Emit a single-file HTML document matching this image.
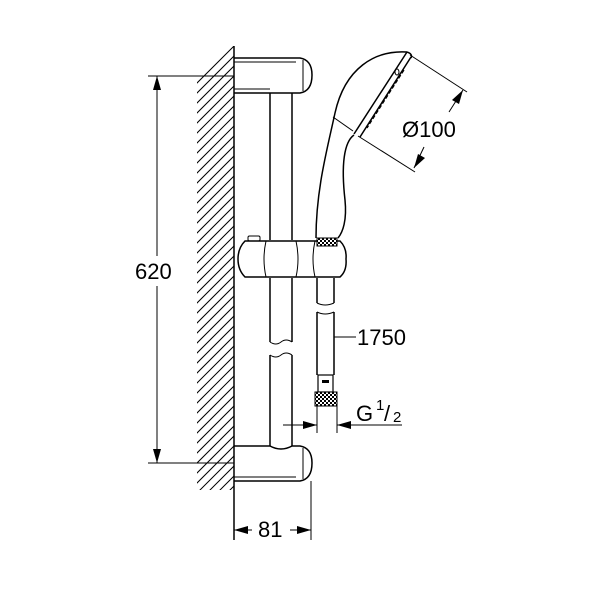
<!DOCTYPE html>
<html><head><style>html,body{margin:0;padding:0;background:#fff}svg{display:block}</style></head>
<body>
<svg width="600" height="600" viewBox="0 0 600 600" xmlns="http://www.w3.org/2000/svg">
<defs>
<clipPath id="w"><rect x="197" y="46" width="37" height="444"/></clipPath>
<pattern id="k" width="4" height="4" patternUnits="userSpaceOnUse"><rect width="4" height="4" fill="#fff"/><rect width="2" height="2" fill="#000"/><rect x="2" y="2" width="2" height="2" fill="#000"/></pattern>
</defs>
<g clip-path="url(#w)" stroke="#000" stroke-width="1">
<path d="M160,560 L280,440 M160,550 L280,430 M160,540 L280,420 M160,530 L280,410 M160,520 L280,400 M160,510 L280,390 M160,500 L280,380 M160,490 L280,370 M160,480 L280,360 M160,470 L280,350 M160,460 L280,340 M160,450 L280,330 M160,440 L280,320 M160,430 L280,310 M160,420 L280,300 M160,410 L280,290 M160,400 L280,280 M160,390 L280,270 M160,380 L280,260 M160,370 L280,250 M160,360 L280,240 M160,350 L280,230 M160,340 L280,220 M160,330 L280,210 M160,320 L280,200 M160,310 L280,190 M160,300 L280,180 M160,290 L280,170 M160,280 L280,160 M160,270 L280,150 M160,260 L280,140 M160,250 L280,130 M160,240 L280,120 M160,230 L280,110 M160,220 L280,100 M160,210 L280,90 M160,200 L280,80 M160,190 L280,70 M160,180 L280,60 M160,170 L280,50 M160,160 L280,40 M160,150 L280,30 M160,140 L280,20 M160,130 L280,10 M160,120 L280,0"/>
</g>
<g fill="none" stroke="#000" stroke-width="1.5">
<line x1="234" y1="46" x2="234" y2="540"/>
<path d="M234,58 L300,58 Q312,60 312,75 Q312,91 300,93 L234,93"/>
<line x1="234" y1="62" x2="296" y2="62" stroke-width="1"/>
<line x1="234" y1="89" x2="270" y2="89" stroke-width="1"/>
<line x1="303" y1="60" x2="303" y2="91" stroke-width="1"/>
<path d="M270,93 L270,240 M292,93 L292,240 M270,278 L270,342 M292,278 L292,342"/>
<path d="M270,342 Q276,346 281,342 Q286,338 292,342" stroke-width="1"/>
<path d="M270,355 Q276,359 281,355 Q286,351 292,355" stroke-width="1"/>
<path d="M270,355 L270,446 M292,355 L292,446"/>
<path d="M234,446 L270,446 Q281,452 292,446 L300,446 Q312,448 312,463 Q312,479 300,481 L234,481"/>
<line x1="234" y1="477" x2="296" y2="477" stroke-width="1"/>
<line x1="303" y1="448" x2="303" y2="479" stroke-width="1"/>
<path d="M245,241 L340,241 Q347,248 346,259 Q347,271 340,277 L245,277 Q238,270 238,259 Q238,248 245,241 Z"/>
<path d="M266,241 Q262,259 266,277 M296,241 Q300,259 296,277 M315,241 Q311,259 315,277" stroke-width="1"/>
<rect x="248" y="236" width="12" height="5" rx="1.5" stroke-width="1"/>
<path d="M407,52 C375,50 345,68 335,113 C327,150 316,190 316,238"/>
<path d="M354,135 C344,142 341,165 345,200 C347,220 343,232 338,238"/>
<path d="M407,52 L354,134 M411,57 L360,137 M407,52 Q413,54 411,58"/>
<path d="M333,117 L353,131" stroke-width="1"/>
<path d="M404,70 L367,128" stroke-width="1.2" stroke-dasharray="4,2"/>
<ellipse cx="397" cy="72" rx="2" ry="3" stroke-width="1"/>
<rect x="317" y="238" width="20" height="8" fill="url(#k)" stroke-width="1"/>
<path d="M317,278 L317,303 M334,278 L334,303 M317,312 L317,375 M334,312 L334,375"/>
<path d="M317,303 Q325,307 334,303 M317,312 Q325,316 334,312" stroke-width="1"/>
<rect x="318" y="375" width="15" height="17" stroke-width="1.2"/>
<rect x="322" y="380" width="7" height="3" fill="#000" stroke="none"/>
<rect x="315" y="392" width="22" height="14" fill="url(#k)" stroke-width="1"/>
<path d="M317,406 L317,433 M337,406 L337,433" stroke-width="1"/>
</g>
<g stroke="#000" stroke-width="1" fill="none">
<line x1="148" y1="76" x2="234" y2="76"/>
<line x1="148" y1="463" x2="234" y2="463"/>
<line x1="157" y1="76" x2="157" y2="256"/>
<line x1="157" y1="286" x2="157" y2="463"/>
<line x1="311" y1="481" x2="311" y2="540"/>
<line x1="234" y1="530" x2="252" y2="530"/>
<line x1="290" y1="530" x2="311" y2="530"/>
<line x1="283" y1="425" x2="317" y2="425"/>
<line x1="337" y1="425" x2="402" y2="425"/>
<line x1="334" y1="337" x2="356" y2="337"/>
<line x1="410" y1="55" x2="467" y2="92"/>
<line x1="358" y1="136" x2="415" y2="172"/>
<line x1="463" y1="90" x2="449" y2="112"/>
<line x1="424" y1="147" x2="414" y2="168"/>
</g>
<g fill="#000">
<polygon points="157,76 153,90 161,90"/>
<polygon points="157,463 153,449 161,449"/>
<polygon points="234,530 248,526 248,534"/>
<polygon points="311,530 297,526 297,534"/>
<polygon points="317,425 303,421 303,429"/>
<polygon points="337,425 351,421 351,429"/>
<polygon points="463,90 452,100 459,104"/>
<polygon points="414,168 418,154 425,158"/>
</g>
<g font-family="Liberation Sans, sans-serif" font-size="22" fill="#000">
<text x="135" y="279">620</text>
<text x="258" y="537">81</text>
<text x="357" y="345">1750</text>
<text x="402" y="137">Ø100</text>
<text x="356" y="421">G</text>
<text x="376" y="410" font-size="15">1</text>
<text x="384" y="421" font-size="22">/</text>
<text x="393" y="422" font-size="15">2</text>
</g>
</svg>
</body></html>
